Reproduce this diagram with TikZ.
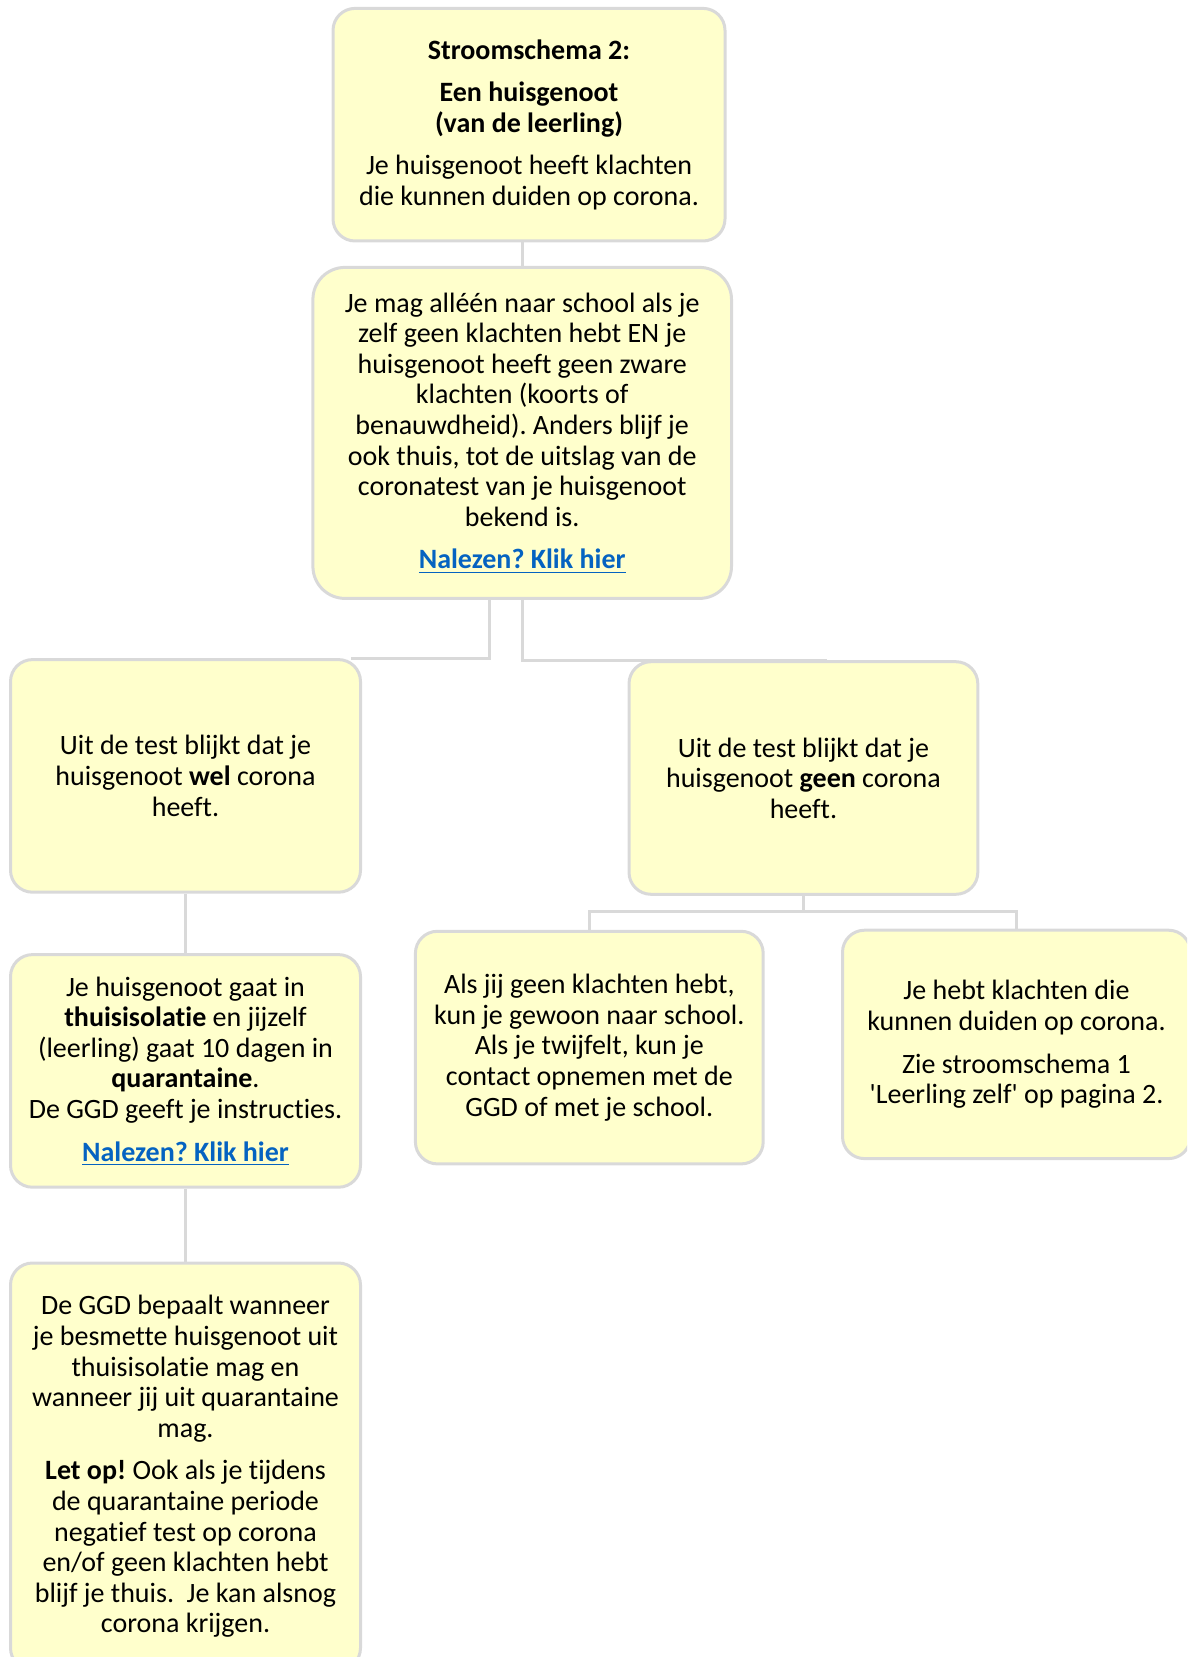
\documentclass[tikz,border=0pt]{standalone}
\usepackage{fontspec}
\setmainfont{Carlito}[Ligatures={NoCommon}]
\frenchspacing
\definecolor{kadergeel}{RGB}{255,255,204}
\definecolor{kadergrijs}{RGB}{217,217,217}
\definecolor{linkblauw}{RGB}{5,99,193}
\newcommand{\klikhier}{{\color{linkblauw}\bfseries\underline{Nalezen? Klik hier}}}

\begin{document}
\begin{tikzpicture}[x=.5pt,y=-.5pt,
	kader/.style={draw=kadergrijs,fill=kadergeel,line width=1.5pt,rounded corners=11pt,align=center,inner sep=0pt,font=\fontsize{14pt}{15.3pt}\selectfont},
	lijn/.style={draw=kadergrijs,line width=1.5pt}]
\useasboundingbox (0,0) rectangle (1187,1657);
\clip (0,0) rectangle (1187,1657);

\node (kop) at (529,124.7) [kader,minimum width=196pt,minimum height=116.3pt] {\textbf{Stroomschema 2:}\\[6pt]\textbf{Een huisgenoot}\\\textbf{(van de leerling)}\\[6pt]Je huisgenoot heeft klachten\\die kunnen duiden op corona.};
\node (regel) at (522.2,432.9) [kader,rounded corners=16pt,minimum width=209.3pt,minimum height=165.5pt] {Je mag alléén naar school als je\\zelf geen klachten hebt EN je\\huisgenoot heeft geen zware\\klachten (koorts of\\benauwdheid). Anders blijf je\\ook thuis, tot de uitslag van de\\coronatest van je huisgenoot\\bekend is.\\[6pt]\klikhier};
\node (wel) at (185.5,775.9) [kader,minimum width=175pt,minimum height=116.3pt] {Uit de test blijkt dat je\\huisgenoot \textbf{wel} corona\\heeft.};
\node (geen) at (803.4,778) [kader,minimum width=174.4pt,minimum height=116.3pt] {Uit de test blijkt dat je\\huisgenoot \textbf{geen} corona\\heeft.};
\node (thuis) at (185.5,1070.9) [kader,minimum width=175pt,minimum height=116.3pt] {Je huisgenoot gaat in\\\textbf{thuisisolatie} en jijzelf\\(leerling) gaat 10 dagen in\\\textbf{quarantaine}.\\De GGD geeft je instructies.\\[6pt]\klikhier};
\node (als) at (589.3,1047.6) [kader,minimum width=173.9pt,minimum height=116.3pt] {Als jij geen klachten hebt,\\kun je gewoon naar school.\\Als je twijfelt, kun je\\contact opnemen met de\\GGD of met je school.};
\node (zelf) at (1016.5,1044.4) [kader,minimum width=174pt,minimum height=114.2pt] {Je hebt klachten die\\kunnen duiden op corona.\\[6pt]Zie stroomschema 1\\\textquotesingle Leerling zelf\textquotesingle{} op pagina 2.};
\node (ggd) at (185.5,1466.5) [kader,minimum width=175pt,minimum height=203.5pt] {De GGD bepaalt wanneer\\je besmette huisgenoot uit\\thuisisolatie mag en\\wanneer jij uit quarantaine\\mag.\\[6pt]\textbf{Let op!} Ook als je tijdens\\de quarantaine periode\\negatief test op corona\\en/of geen klachten hebt\\blijf je thuis.\ \ Je kan alsnog\\corona krijgen.};

\coordinate (splitsing) at (803.4,911);
\draw[lijn] (kop.south -| regel.north) -- (regel.north);
\draw[lijn] ([xshift=-16.5pt]regel.south) |- ([xshift=-5.75pt]wel.north east);
\draw[lijn] (regel.south) |- ([xshift=12pt]geen.north);
\draw[lijn] (geen.south) -- (splitsing);
\draw[lijn] (als.north) |- (splitsing) -| (zelf.north);
\draw[lijn] (wel) -- (thuis);
\draw[lijn] (thuis) -- (ggd);
\end{tikzpicture}
\end{document}
